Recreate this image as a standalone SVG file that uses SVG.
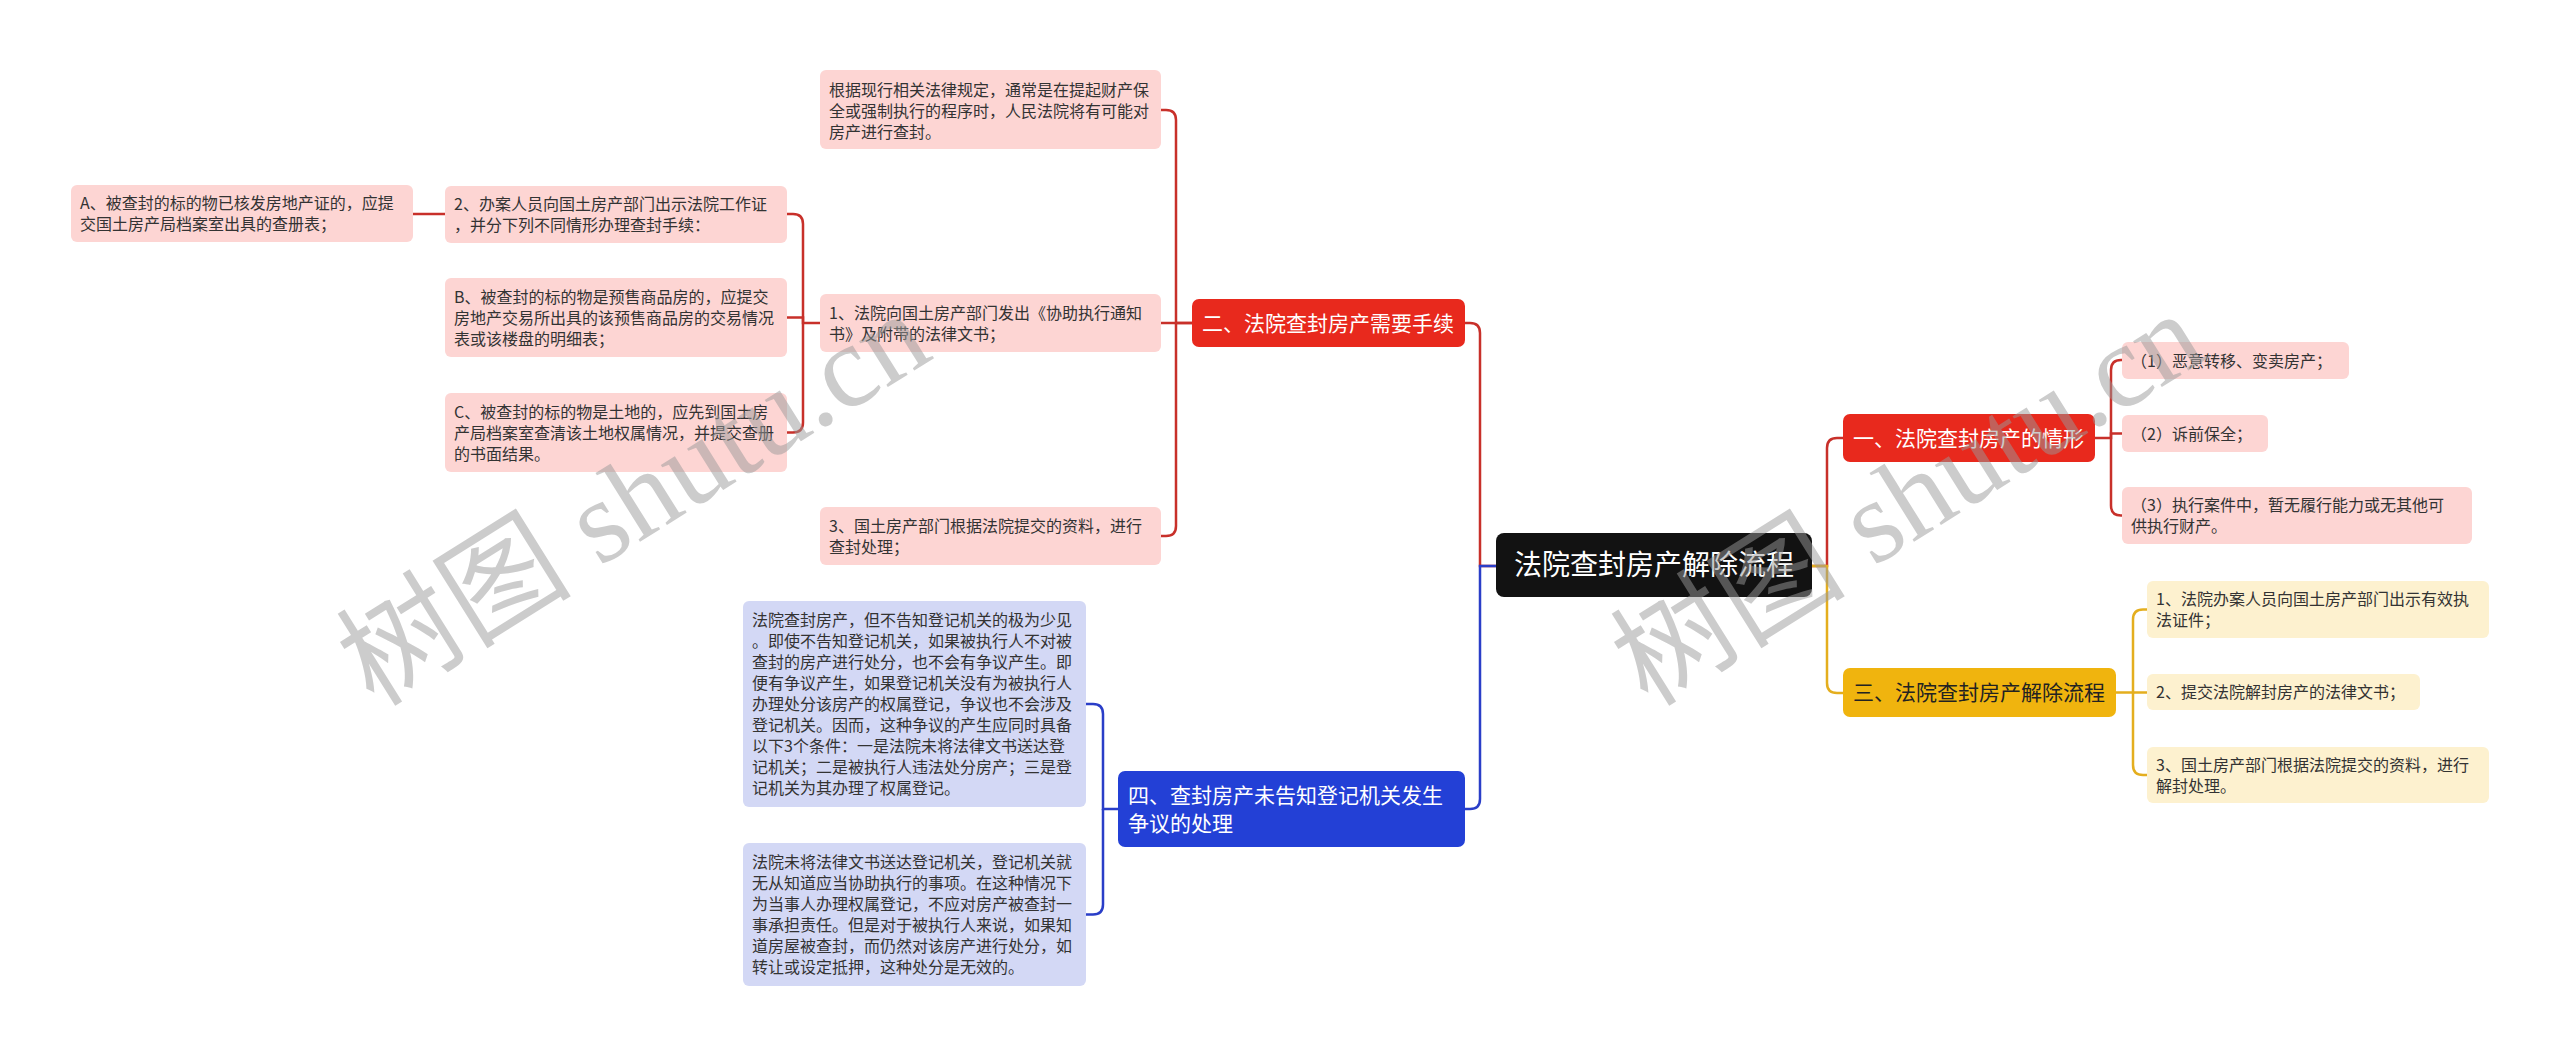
<svg xmlns="http://www.w3.org/2000/svg" width="2560" height="1054" viewBox="0 0 2560 1054">
<style>
text{font-family:"Noto Sans CJK SC","Noto Sans",sans-serif}
.leaf{font-size:16px;fill:#333333}
.br{font-size:21px;fill:#ffffff}
.root{font-size:28px;fill:#ffffff}
.pk{fill:#fdd5d3}
.yl{fill:#fdf1cf}
.bl{fill:#d3d8f5}
.red{fill:#e8291d}
.yel{fill:#f0b40e}
.blu{fill:#2340d6}
.c{fill:none;stroke-width:2.5}
.cr{stroke:#c8302a}
.cy{stroke:#e4ae1e}
.cb{stroke:#2a3ec8}
.wm{font-family:"Liberation Serif","Noto Sans CJK SC",serif;font-size:118px;fill:#9a9a9a;opacity:0.5}
</style>
<rect width="2560" height="1054" fill="#ffffff"/>
<g id="connectors">
<path class="c cr" d="M1496 566H1480V333Q1480 323 1470 323H1465"/>
<path class="c cb" d="M1496 566H1480V799Q1480 809 1470 809H1465"/>
<path class="c cr" d="M1812 566H1827V448Q1827 438 1837 438H1843"/>
<path class="c cy" d="M1812 566H1827V683Q1827 693 1837 693H1843"/>
<path class="c cr" d="M1192 323H1176V120Q1176 110 1166 110H1161"/>
<path class="c cr" d="M1192 323H1161"/>
<path class="c cr" d="M1176 323V526Q1176 536 1166 536H1161"/>
<path class="c cr" d="M820 323H803V224Q803 214 793 214H787"/>
<path class="c cr" d="M803 323V317.5H787"/>
<path class="c cr" d="M803 323V422.5Q803 432.5 793 432.5H787"/>
<path class="c cr" d="M445 214H413"/>
<path class="c cr" d="M2095 438H2111V370Q2111 360 2121 360H2122"/>
<path class="c cr" d="M2111 438V433.5H2122"/>
<path class="c cr" d="M2111 438V505.5Q2111 515.5 2121 515.5H2122"/>
<path class="c cy" d="M2116 692.5H2133V619.5Q2133 609.5 2143 609.5H2147"/>
<path class="c cy" d="M2133 692.5H2147"/>
<path class="c cy" d="M2133 692.5V765Q2133 775 2143 775H2147"/>
<path class="c cb" d="M1118 809H1103V714Q1103 704 1093 704H1086"/>
<path class="c cb" d="M1103 809V904.5Q1103 914.5 1093 914.5H1086"/>
</g>
<g id="root">
<rect x="1496" y="533" width="316" height="64" rx="8" fill="#121212"/>
<text class="root" x="1654" y="575" text-anchor="middle">法院查封房产解除流程</text>
</g>
<g id="b2">
<rect class="red" x="1192" y="299" width="273" height="48" rx="7"/>
<text class="br" x="1202" y="331">二、法院查封房产需要手续</text>
</g>
<g id="b1">
<rect class="red" x="1843" y="414" width="252" height="48" rx="7"/>
<text class="br" x="1853" y="446">一、法院查封房产的情形</text>
</g>
<g id="b3">
<rect class="yel" x="1843" y="668" width="273" height="49" rx="7"/>
<text class="br" x="1853" y="700" style="fill:#222222">三、法院查封房产解除流程</text>
</g>
<g id="b4">
<rect class="blu" x="1118" y="771" width="347" height="76" rx="7"/>
<text class="br" x="1128" y="803">四、查封房产未告知登记机关发生</text>
<text class="br" x="1128" y="831">争议的处理</text>
</g>
<g id="n2-top">
<rect class="pk" x="820" y="70" width="341" height="79" rx="6"/>
<text class="leaf" x="829" y="95.5">根据现行相关法律规定，通常是在提起财产保</text>
<text class="leaf" x="829" y="116.5">全或强制执行的程序时，人民法院将有可能对</text>
<text class="leaf" x="829" y="137.5">房产进行查封。</text>
</g>
<g id="n2-1">
<rect class="pk" x="820" y="294" width="341" height="58" rx="6"/>
<text class="leaf" x="829" y="318.5">1、法院向国土房产部门发出《协助执行通知</text>
<text class="leaf" x="829" y="339.5">书》及附带的法律文书；</text>
</g>
<g id="n2-3">
<rect class="pk" x="820" y="507" width="341" height="58" rx="6"/>
<text class="leaf" x="829" y="531.5">3、国土房产部门根据法院提交的资料，进行</text>
<text class="leaf" x="829" y="552.5">查封处理；</text>
</g>
<g id="n2-1-2">
<rect class="pk" x="445" y="186" width="342" height="57" rx="6"/>
<text class="leaf" x="454" y="210">2、办案人员向国土房产部门出示法院工作证</text>
<text class="leaf" x="454" y="231">，并分下列不同情形办理查封手续：</text>
</g>
<g id="n2-1-B">
<rect class="pk" x="445" y="278" width="342" height="79" rx="6"/>
<text class="leaf" x="454" y="302.5">B、被查封的标的物是预售商品房的，应提交</text>
<text class="leaf" x="454" y="323.5">房地产交易所出具的该预售商品房的交易情况</text>
<text class="leaf" x="454" y="344.5">表或该楼盘的明细表；</text>
</g>
<g id="n2-1-C">
<rect class="pk" x="445" y="393" width="342" height="79" rx="6"/>
<text class="leaf" x="454" y="417.5">C、被查封的标的物是土地的，应先到国土房</text>
<text class="leaf" x="454" y="438.5">产局档案室查清该土地权属情况，并提交查册</text>
<text class="leaf" x="454" y="459.5">的书面结果。</text>
</g>
<g id="n2-1-2-A">
<rect class="pk" x="71" y="185" width="342" height="57" rx="6"/>
<text class="leaf" x="80" y="209">A、被查封的标的物已核发房地产证的，应提</text>
<text class="leaf" x="80" y="230">交国土房产局档案室出具的查册表；</text>
</g>
<g id="n1-1">
<rect class="pk" x="2122" y="342" width="227" height="37" rx="6"/>
<text class="leaf" x="2131" y="366.5">（1）恶意转移、变卖房产；</text>
</g>
<g id="n1-2">
<rect class="pk" x="2122" y="415" width="146" height="37" rx="6"/>
<text class="leaf" x="2131" y="439.5">（2）诉前保全；</text>
</g>
<g id="n1-3">
<rect class="pk" x="2122" y="487" width="350" height="57" rx="6"/>
<text class="leaf" x="2131" y="511">（3）执行案件中，暂无履行能力或无其他可</text>
<text class="leaf" x="2131" y="532">供执行财产。</text>
</g>
<g id="n3-1">
<rect class="yl" x="2147" y="581" width="342" height="57" rx="6"/>
<text class="leaf" x="2156" y="605">1、法院办案人员向国土房产部门出示有效执</text>
<text class="leaf" x="2156" y="626">法证件；</text>
</g>
<g id="n3-2">
<rect class="yl" x="2147" y="674" width="273" height="36" rx="6"/>
<text class="leaf" x="2156" y="698">2、提交法院解封房产的法律文书；</text>
</g>
<g id="n3-3">
<rect class="yl" x="2147" y="747" width="342" height="56" rx="6"/>
<text class="leaf" x="2156" y="770.5">3、国土房产部门根据法院提交的资料，进行</text>
<text class="leaf" x="2156" y="791.5">解封处理。</text>
</g>
<g id="n4-1">
<rect class="bl" x="743" y="601" width="343" height="206" rx="6"/>
<text class="leaf" x="752" y="626">法院查封房产，但不告知登记机关的极为少见</text>
<text class="leaf" x="752" y="647">。即使不告知登记机关，如果被执行人不对被</text>
<text class="leaf" x="752" y="668">查封的房产进行处分，也不会有争议产生。即</text>
<text class="leaf" x="752" y="689">便有争议产生，如果登记机关没有为被执行人</text>
<text class="leaf" x="752" y="710">办理处分该房产的权属登记，争议也不会涉及</text>
<text class="leaf" x="752" y="731">登记机关。因而，这种争议的产生应同时具备</text>
<text class="leaf" x="752" y="752">以下3个条件：一是法院未将法律文书送达登</text>
<text class="leaf" x="752" y="773">记机关；二是被执行人违法处分房产；三是登</text>
<text class="leaf" x="752" y="794">记机关为其办理了权属登记。</text>
</g>
<g id="n4-2">
<rect class="bl" x="743" y="843" width="343" height="143" rx="6"/>
<text class="leaf" x="752" y="868">法院未将法律文书送达登记机关，登记机关就</text>
<text class="leaf" x="752" y="889">无从知道应当协助执行的事项。在这种情况下</text>
<text class="leaf" x="752" y="910">为当事人办理权属登记，不应对房产被查封一</text>
<text class="leaf" x="752" y="931">事承担责任。但是对于被执行人来说，如果知</text>
<text class="leaf" x="752" y="952">道房屋被查封，而仍然对该房产进行处分，如</text>
<text class="leaf" x="752" y="973">转让或设定抵押，这种处分是无效的。</text>
</g>
<g id="watermarks">
<text class="wm" transform="translate(374 708) rotate(-32)">树图 shutu.cn</text>
<text class="wm" transform="translate(1648 708) rotate(-32)">树图 shutu.cn</text>
</g>
</svg>
